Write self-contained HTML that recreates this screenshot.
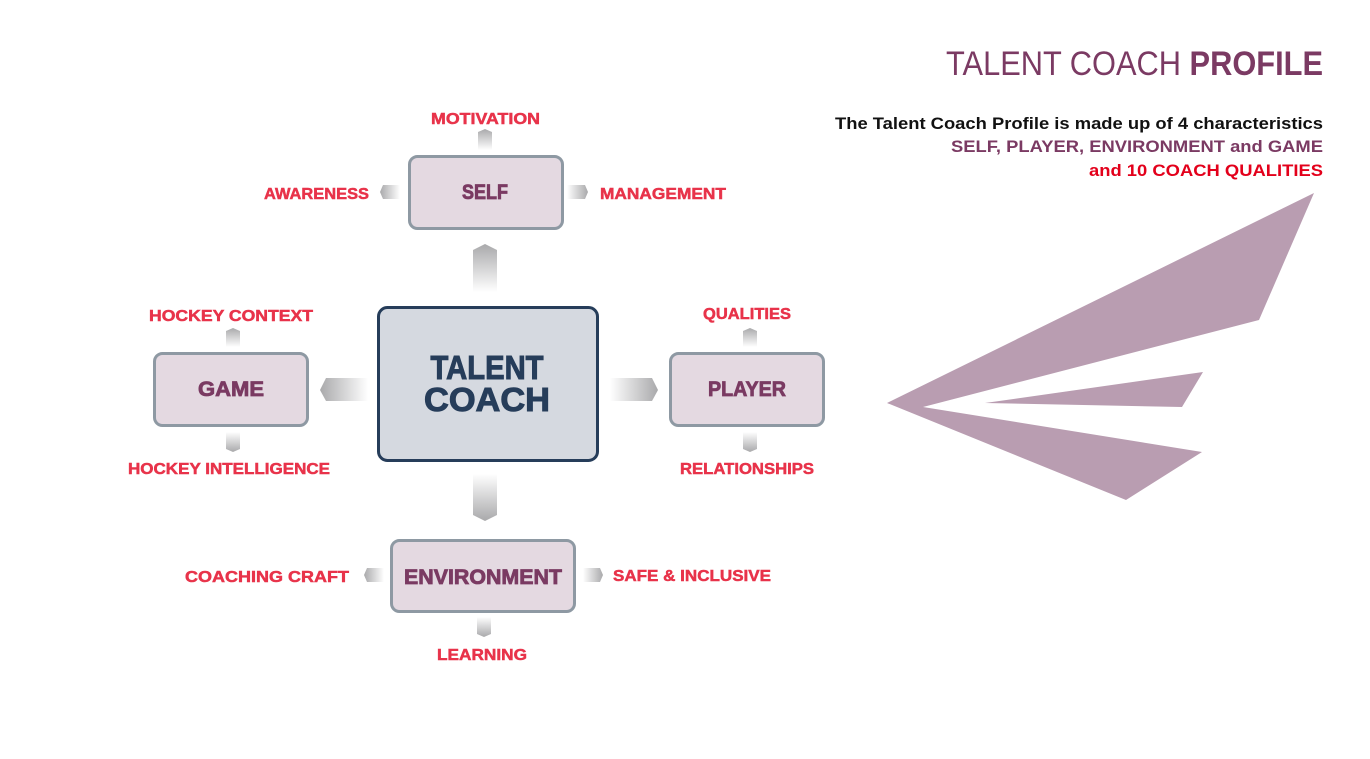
<!DOCTYPE html>
<html><head><meta charset="utf-8"><style>html,body{margin:0;padding:0;background:#fff}svg{display:block}</style></head>
<body>
<svg width="1370" height="759" viewBox="0 0 1370 759" xmlns="http://www.w3.org/2000/svg" font-family="Liberation Sans, sans-serif">
<defs>
<linearGradient id="gU" x1="0" y1="0" x2="0" y2="1"><stop offset="0" stop-color="#a9a9ab"/><stop offset="1" stop-color="#ffffff"/></linearGradient>
<linearGradient id="gD" x1="0" y1="1" x2="0" y2="0"><stop offset="0" stop-color="#a9a9ab"/><stop offset="1" stop-color="#ffffff"/></linearGradient>
<linearGradient id="gL" x1="0" y1="0" x2="1" y2="0"><stop offset="0" stop-color="#a9a9ab"/><stop offset="1" stop-color="#ffffff"/></linearGradient>
<linearGradient id="gR" x1="1" y1="0" x2="0" y2="0"><stop offset="0" stop-color="#a9a9ab"/><stop offset="1" stop-color="#ffffff"/></linearGradient>
</defs>

<path d="M473,250 L485,244 L497,250 L497,292 L473,292 Z" fill="url(#gU)"/>
<path d="M473,474 L497,474 L497,515 L485,521 L473,515 Z" fill="url(#gD)"/>
<path d="M326,378 L368,378 L368,401 L326,401 L320,390 Z" fill="url(#gL)"/>
<path d="M610,378 L652,378 L658,390 L652,401 L610,401 Z" fill="url(#gR)"/>

<path d="M478,132 L485,129 L492,132 L492,150 L478,150 Z" fill="url(#gU)"/>
<path d="M383,185 L400,185 L400,199 L383,199 L380,192 Z" fill="url(#gL)"/>
<path d="M567,185 L585,185 L588,192 L585,199 L567,199 Z" fill="url(#gR)"/>
<path d="M226,331 L233,328 L240,331 L240,347 L226,347 Z" fill="url(#gU)"/>
<path d="M226,432 L240,432 L240,449 L233,452 L226,449 Z" fill="url(#gD)"/>
<path d="M743,331 L750,328 L757,331 L757,347 L743,347 Z" fill="url(#gU)"/>
<path d="M743,432 L757,432 L757,449 L750,452 L743,449 Z" fill="url(#gD)"/>
<path d="M367,568 L384,568 L384,582 L367,582 L364,575 Z" fill="url(#gL)"/>
<path d="M583,568 L600,568 L603,575 L600,582 L583,582 Z" fill="url(#gR)"/>
<path d="M477,617 L491,617 L491,634 L484,637 L477,634 Z" fill="url(#gD)"/>

<rect x="409.5" y="156.5" width="153" height="72" rx="8" fill="#e4d9e1" stroke="#8e99a3" stroke-width="3"/>
<rect x="378.5" y="307.5" width="219" height="153" rx="9" fill="#d5d9e0" stroke="#263d5a" stroke-width="3"/>
<rect x="154.5" y="353.5" width="153" height="72" rx="8" fill="#e4d9e1" stroke="#8e99a3" stroke-width="3"/>
<rect x="670.5" y="353.5" width="153" height="72" rx="8" fill="#e4d9e1" stroke="#8e99a3" stroke-width="3"/>
<rect x="391.5" y="540.5" width="183" height="71" rx="8" fill="#e4d9e1" stroke="#8e99a3" stroke-width="3"/>

<g font-weight="bold" fill="#7a3a62" stroke="#7a3a62" stroke-width="0.8" font-size="21" text-anchor="middle">
<text x="485" y="199" textLength="46" lengthAdjust="spacingAndGlyphs">SELF</text>
<text x="231" y="396" textLength="66" lengthAdjust="spacingAndGlyphs">GAME</text>
<text x="747" y="396" textLength="78" lengthAdjust="spacingAndGlyphs">PLAYER</text>
<text x="483" y="584" textLength="158" lengthAdjust="spacingAndGlyphs">ENVIRONMENT</text>
</g>
<g font-weight="bold" fill="#263d5a" stroke="#263d5a" stroke-width="1" font-size="33" text-anchor="middle">
<text x="487" y="379" textLength="113" lengthAdjust="spacingAndGlyphs">TALENT</text>
<text x="487" y="411" textLength="126" lengthAdjust="spacingAndGlyphs">COACH</text>
</g>

<g font-weight="bold" fill="#e8334a" stroke="#e8334a" stroke-width="0.5" font-size="16">
<text x="431" y="124" textLength="109" lengthAdjust="spacingAndGlyphs">MOTIVATION</text>
<text x="264" y="199" textLength="105" lengthAdjust="spacingAndGlyphs">AWARENESS</text>
<text x="600" y="199" textLength="126" lengthAdjust="spacingAndGlyphs">MANAGEMENT</text>
<text x="149" y="321" textLength="164" lengthAdjust="spacingAndGlyphs">HOCKEY CONTEXT</text>
<text x="128" y="474" textLength="202" lengthAdjust="spacingAndGlyphs">HOCKEY INTELLIGENCE</text>
<text x="703" y="319" textLength="88" lengthAdjust="spacingAndGlyphs">QUALITIES</text>
<text x="680" y="474" textLength="134" lengthAdjust="spacingAndGlyphs">RELATIONSHIPS</text>
<text x="185" y="582" textLength="164" lengthAdjust="spacingAndGlyphs">COACHING CRAFT</text>
<text x="613" y="581" textLength="158" lengthAdjust="spacingAndGlyphs">SAFE &amp; INCLUSIVE</text>
<text x="437" y="660" textLength="90" lengthAdjust="spacingAndGlyphs">LEARNING</text>
</g>

<text x="946" y="75" font-size="34" fill="#7b3a63" textLength="377" lengthAdjust="spacingAndGlyphs">TALENT COACH <tspan font-weight="bold">PROFILE</tspan></text>
<g font-size="17" font-weight="bold">
<text x="835" y="129" fill="#111" textLength="488" lengthAdjust="spacingAndGlyphs">The Talent Coach Profile is made up of 4 characteristics</text>
<text x="951" y="152" fill="#7b3a63" textLength="372" lengthAdjust="spacingAndGlyphs">SELF, PLAYER, ENVIRONMENT and GAME</text>
<text x="1089" y="176" fill="#e3001b" textLength="234" lengthAdjust="spacingAndGlyphs">and 10 COACH QUALITIES</text>
</g>

<polygon points="887,403 1314,193 1259,320 923,407 1202,452 1126,500" fill="#b99db1"/>
<polygon points="985,403 1203,372 1182,407" fill="#b99db1"/>
</svg>
</body></html>
